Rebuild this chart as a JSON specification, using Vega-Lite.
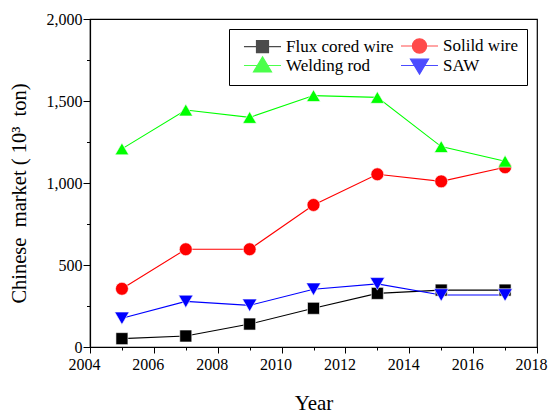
{
  "$schema": "https://vega.github.io/schema/vega-lite/v6.json",
  "width": 447,
  "height": 328,
  "autosize": "none",
  "padding": {"left": 90, "top": 19, "right": 11, "bottom": 67},
  "background": "white",
  "config": {
    "font": "Liberation Serif",
    "view": {"stroke": "black", "strokeWidth": 1.2},
    "axis": {
      "grid": false,
      "domainColor": "black",
      "domainWidth": 1.2,
      "tickColor": "black",
      "tickWidth": 1,
      "labelColor": "black",
      "titleColor": "black",
      "labelFont": "Liberation Serif",
      "titleFont": "Liberation Serif",
      "labelFontSize": 16,
      "titleFontSize": 21,
      "titleFontWeight": "normal"
    }
  },
  "data": {
    "values": [
      {"series": "Flux cored wire", "year": 2005, "value": 51},
      {"series": "Flux cored wire", "year": 2007, "value": 67},
      {"series": "Flux cored wire", "year": 2009, "value": 140},
      {"series": "Flux cored wire", "year": 2011, "value": 236},
      {"series": "Flux cored wire", "year": 2013, "value": 327},
      {"series": "Flux cored wire", "year": 2015, "value": 347},
      {"series": "Flux cored wire", "year": 2017, "value": 347},
      {"series": "Solild wire", "year": 2005, "value": 355},
      {"series": "Solild wire", "year": 2007, "value": 596},
      {"series": "Solild wire", "year": 2009, "value": 596},
      {"series": "Solild wire", "year": 2011, "value": 866},
      {"series": "Solild wire", "year": 2013, "value": 1053},
      {"series": "Solild wire", "year": 2015, "value": 1010},
      {"series": "Solild wire", "year": 2017, "value": 1096},
      {"series": "Welding rod", "year": 2005, "value": 1208},
      {"series": "Welding rod", "year": 2007, "value": 1445},
      {"series": "Welding rod", "year": 2009, "value": 1400},
      {"series": "Welding rod", "year": 2011, "value": 1533},
      {"series": "Welding rod", "year": 2013, "value": 1522},
      {"series": "Welding rod", "year": 2015, "value": 1222},
      {"series": "Welding rod", "year": 2017, "value": 1133},
      {"series": "SAW", "year": 2005, "value": 175},
      {"series": "SAW", "year": 2007, "value": 278},
      {"series": "SAW", "year": 2009, "value": 254},
      {"series": "SAW", "year": 2011, "value": 352},
      {"series": "SAW", "year": 2013, "value": 385},
      {"series": "SAW", "year": 2015, "value": 317},
      {"series": "SAW", "year": 2017, "value": 317}
    ]
  },
  "encoding": {
    "x": {
      "field": "year",
      "type": "quantitative",
      "scale": {"domain": [2004, 2018], "nice": false, "zero": false},
      "axis": {
        "title": "Year",
        "values": [2004, 2005, 2006, 2007, 2008, 2009, 2010, 2011, 2012, 2013, 2014, 2015, 2016, 2017, 2018],
        "labelExpr": "datum.value % 2 == 0 ? format(datum.value, 'd') : ''",
        "tickSize": {"condition": {"test": "datum.value % 2 == 0", "value": 6}, "value": 3},
        "labelFlush": false,
        "labelOverlap": false,
        "labelPadding": 3,
        "labelOffset": -6,
        "titlePadding": 20
      }
    },
    "y": {
      "field": "value",
      "type": "quantitative",
      "scale": {"domain": [0, 2000], "nice": false},
      "axis": {
        "title": "Chinese\u00a0 market (\u00a010³\u00a0 ton)",
        "titleFontSize": 20.5,
        "titleY": 174,
        "values": [0, 250, 500, 750, 1000, 1250, 1500, 1750, 2000],
        "labelExpr": "datum.value % 500 == 0 ? format(datum.value, ',') : ''",
        "tickSize": {"condition": {"test": "datum.value % 500 == 0", "value": 7}, "value": 3.5},
        "labelFlush": false,
        "labelOverlap": false,
        "labelPadding": 1,
        "titlePadding": 17
      }
    }
  },
  "layer": [
    {
      "mark": {"type": "line", "strokeWidth": 1.1},
      "encoding": {
        "color": {
          "field": "series",
          "type": "nominal",
          "scale": {"domain": ["Flux cored wire", "Solild wire", "Welding rod", "SAW"], "range": ["#000000", "#ff0000", "#00ff00", "#0000ff"]},
          "legend": null
        },
        "detail": {"field": "series"}
      }
    },
    {
      "mark": {"type": "point", "filled": true, "opacity": 1, "stroke": "white", "strokeWidth": 0.6},
      "encoding": {
        "color": {
          "field": "series",
          "type": "nominal",
          "scale": {"domain": ["Flux cored wire", "Solild wire", "Welding rod", "SAW"], "range": ["#000000", "#ff0000", "#00ff00", "#0000ff"]},
          "legend": null
        },
        "shape": {
          "field": "series",
          "type": "nominal",
          "scale": {"domain": ["Flux cored wire", "Solild wire", "Welding rod", "SAW"], "range": ["square", "circle", "triangle-up", "triangle-down"]},
          "legend": null
        },
        "size": {
          "field": "series",
          "type": "nominal",
          "scale": {"domain": ["Flux cored wire", "Solild wire", "Welding rod", "SAW"], "range": [144, 210, 300, 300]},
          "legend": null
        }
      }
    },
    {
      "transform": [{"filter": "datum.year > 3000"}],
      "mark": {"type": "point", "filled": true, "size": 225, "strokeWidth": 1.2},
      "encoding": {
        "color": {
          "field": "series",
          "type": "nominal",
          "scale": {"domain": ["Flux cored wire", "Solild wire", "Welding rod", "SAW"], "range": ["#000000", "#ff0000", "#00ff00", "#0000ff"]},
          "legend": {"title": null, "orient": "none", "legendX": 139, "legendY": 10, "direction": "horizontal", "columns": 2, "columnPadding": 0, "rowPadding": -2, "padding": 8, "strokeColor": "black", "fillColor": "white", "labelFont": "Liberation Serif", "labelFontSize": 17, "labelColor": "black", "symbolSize": 225, "symbolOffset": 17, "labelOffset": 15, "symbolStrokeWidth": 1.2}
        },
        "stroke": {
          "field": "series",
          "type": "nominal",
          "scale": {"domain": ["Flux cored wire", "Solild wire", "Welding rod", "SAW"], "range": ["#000000", "#ff0000", "#00ff00", "#0000ff"]},
          "legend": {"title": null, "orient": "none", "legendX": 139, "legendY": 10, "direction": "horizontal", "columns": 2, "columnPadding": 0, "rowPadding": -2, "padding": 8, "strokeColor": "black", "fillColor": "white", "labelFont": "Liberation Serif", "labelFontSize": 17, "labelColor": "black", "symbolSize": 225, "symbolOffset": 17, "labelOffset": 15, "symbolStrokeWidth": 1.2}
        },
        "shape": {
          "field": "series",
          "type": "nominal",
          "scale": {"domain": ["Flux cored wire", "Solild wire", "Welding rod", "SAW"], "range": [
            "M-2.47,0H2.47M-0.8,-0.8H0.8V0.8H-0.8Z",
            "M-2.47,0H2.47M0.95,0A0.95,0.95,0,1,1,-0.95,0A0.95,0.95,0,1,1,0.95,0Z",
            "M-2.47,0H2.47M0,-1.15L1.2,0.85L-1.2,0.85Z",
            "M-2.47,0H2.47M0,1.15L1.2,-0.85L-1.2,-0.85Z"
          ]},
          "legend": {"title": null, "orient": "none", "legendX": 139, "legendY": 10, "direction": "horizontal", "columns": 2, "columnPadding": 0, "rowPadding": -2, "padding": 8, "strokeColor": "black", "fillColor": "white", "labelFont": "Liberation Serif", "labelFontSize": 17, "labelColor": "black", "symbolSize": 225, "symbolOffset": 17, "labelOffset": 15, "symbolStrokeWidth": 1.2}
        }
      }
    }
  ],
  "resolve": {"scale": {"shape": "independent", "color": "independent", "stroke": "independent"}}
}
